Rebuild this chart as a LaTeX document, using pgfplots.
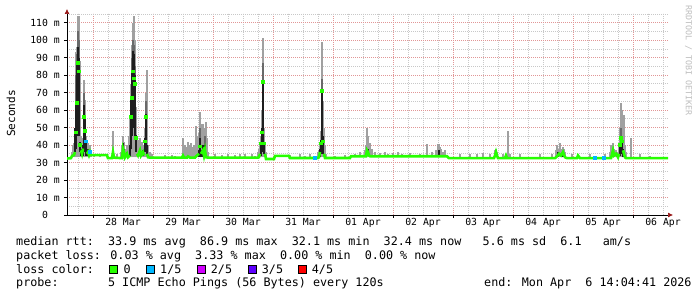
\documentclass[border=0pt]{standalone}
\usepackage{fontspec}
\setmainfont{DejaVu Sans Mono}
\usepackage{pgfplots}
\usepackage{pgfplotstable}
\pgfplotsset{compat=1.18}
\usetikzlibrary{arrows.meta}

\definecolor{lc0}{RGB}{38,255,0}
\definecolor{lc1}{RGB}{0,184,255}
\definecolor{lc2}{RGB}{210,0,255}
\definecolor{lc3}{RGB}{94,0,255}
\definecolor{lc4}{RGB}{255,0,0}
\definecolor{smokeL}{RGB}{160,160,160}
\definecolor{smokeM}{RGB}{105,105,105}
\definecolor{smokeD}{RGB}{30,30,30}
\definecolor{gridred}{RGB}{225,150,150}
\definecolor{gridgrey}{RGB}{200,200,200}
\definecolor{arrowred}{RGB}{150,20,20}

% time axis: px position on the original time scale (60 per day, 93 = 28 Mar 00:00)
\pgfplotstableread{
px lo hi
72 33 36
73 33 40
74 33 41
75 33 48
76 33 93
77 33 96
78 33 114
79 33 114
80 33 88
81 33 45
82 33 40
83 33 44
84 33 77
85 33 66
86 33 45
87 33 42
88 33 41
89 33 38
90 33 40
91 33 37
94 33 35
100 33 35
113 33 48
117 33 35
121 33 36
122 33 40
123 33 45
124 33 42
125 33 38
126 33 38
127 33 40
128 33 39
129 33 45
130 33 55
131 33 75
132 33 97
133 33 110
134 33 114
135 33 100
136 33 62
137 33 45
138 33 43
139 33 42
140 33 44
141 33 40
142 33 42
143 33 40
144 33 38
145 33 50
146 33 70
147 33 83
148 33 40
150 33 36
152 33 35
165 33 34.5
172 33 34.5
175 33 34
183 33 44
184 33 38
185 33 40
186 33 37
187 33 39
188 33 41.6
189 33 40
190 33 38
191 33 41
192 33 37
193 33 39
194 33 40
196 33 51
197 33 45
198 33 40
199 33 47
200 33 59
201 33 52
202 33 46
203 33 52
204 33 50
205 33 49
206 33 53
207 33 44
208 33 36
215 33 35
222 33 34.5
228 33 35
235 33 34.5
240 33 35
245 33 35
252 33 35
255 33 34
258 33 36
259 33 38
260 33 42
261 33 45
262 33 60
263 33 101
264 33 50
265 33 40
266 33 36
280 33 34.5
290 33 34.5
300 33 35
305 33 34
310 33 35
315 33 34
318 33 36
319 33 37
320 33 42
321 33 48
322 33 99
323 33 65
324 33 50
325 33 40
326 33 35
335 33 34
345 33 34.5
355 33 35
360 33 36
365 33 37
366 33 40
367 33 49.6
368 33 45
369 33 40
370 33 41
372 33 38
375 33 36
380 33 35.5
385 33 36
388 33 35
393 33 35.5
398 33 36
402 33 35
410 33 35.5
420 33 35
427 33 40.5
432 33 36
436 33 37
438 33 40.5
439 33 40.5
440 33 39
441 33 38
443 33 36
445 33 37
460 33 35
470 33 35
477 33 35
483 33 35.5
490 33 35
495 33 37
496 33 37.5
497 33 36
503 33 35
508 33 48
510 33 35
520 33 35
540 33 35
552 33 35
556 33 37
557 33 40
558 33 38
559 33 36
560 33 41
561 33 38
562 33 37
563 33 39
564 33 38
565 33 36
572 33 35
578 33 35
590 33 35
605 33 35
610 33 36
611 33 40
612 33 38
613 33 41
614 33 38
616 33 37
618 33 36
619 33 40
620 33 50
621 33 64
622 33 60
623 33 47
624 33 57
625 33 40
626 33 36
631 33 44
640 33 35
650 33 34
}\smokelight

\pgfplotstableread{
px lo hi
76 40 80
77 45 92
78 55 105
79 50 100
84 36 70
132 45 90
133 50 100
134 55 97
135 45 85
146 38 65
200 34 50
205 34 45
263 40 87
322 38 78
621 36 50
}\smokemid

\pgfplotstableread{
px lo hi
75 36 50
76 38 63
77 45 88
78 60 96
79 45 90
80 36 42
81 34 38
83 34 40
84 36 63
85 36 56
86 34 42
88 34 38
113 34 37
123 34 41
124 34 38
127 34 36
130 34 40
131 38 67
132 45 82
133 50 94
134 55 92
135 44 80
136 36 46
140 34 38
143 34 37
145 36 44
146 40 58
147 34 40
183 33 35
199 33 37
200 34 44
201 33 37
203 33 40
204 33 37
205 33 40
261 34 42
262 36 50
263 40 76
264 35 42
320 33 38
321 35 43
322 38 71
323 35 45
367 34 38
368 34 38
439 33 37
496 33 37
558 33 36
563 33 36
613 33 37
620 34 40
621 36 44
622 35 44
623 33 38
}\smokedark

\pgfplotstableread{
px med
67 32.3
71 32.5
72 33.8
74 34.2
75 36
76 nan
81 37
82 35
83 38
84 nan
87 35
88 36
89 34.2
90 36
91 34.2
107 34.2
108 32.5
112 32.5
113 36
114 32.8
122 32.5
123 38
124 36
125 33
127 35
128 33
130 34
131 nan
137 35
138 34
140 37
141 34
143 36
144 34
145 nan
147 35
148 33
150 32.8
182 32.8
183 34
184 32.8
187 32.8
188 33.5
190 32.8
195 32.8
196 33.5
199 35
200 nan
201 35
203 37
204 34
205 37
206 33
208 32.8
258 32.8
259 33
260 35
261 nan
265 35
266 32
274 32
275 33.8
289 33.8
290 32.6
318 32.6
319 33
320 36
321 nan
324 35
325 32.6
350 32.6
351 33.6
366 33.6
367 37
368 36
369 34
370 33.6
447 33.6
449 32.5
494 32.5
495 34
496 36
497 34
498 32.5
505 32.5
506 34
507 32.5
555 32.5
557 33.5
559 35
561 34
563 36
565 33
567 32.5
577 32.5
578 34
580 32.5
611 32.5
613 37
614 34
616 35
618 33
619 35
620 nan
623 37
624 35
625 33
626 32.5
668 32.5
}\medline

\pgfplotstableread{
px med
76 47
77 64
78 87
79 82
80 40
84 56
85 48
131 56
132 67
133 82
134 78
135 75
136 44
145 42
146 56
200 39
261 41
262 47
263 76
264 41
321 41
322 71
323 42
620 40
621 44
622 42
}\medspikes

\pgfplotstableread{
px med
86 42
90 36
315 32.6
595 32.5
604 32.5
}\medloss

\begin{document}
\begin{tikzpicture}[
  lg/.style={anchor=base west, inner sep=0pt, font=\fontsize{11.74bp}{13bp}\selectfont},
  box/.style={draw=black, line width=0.6bp, minimum width=8bp, minimum height=8bp, inner sep=0pt, anchor=south west}]
\useasboundingbox[fill=white] (0,0) rectangle (697bp,297bp);
\begin{axis}[
  at={(67bp,82bp)}, anchor=south west,
  width=601bp, height=202bp, scale only axis,
  xmin=-0.4333, xmax=9.5833, ymin=0, ymax=115.5,
  axis lines=left,
  axis line style={black, line width=0.7bp},
  x axis line style={shorten >=-5bp, -{Latex[length=5bp,width=5bp,color=arrowred]}},
  y axis line style={shorten >=-4bp, -{Latex[length=5bp,width=5bp,color=arrowred]}},
  xtick={0,...,9}, xticklabels={},
  extra x ticks={0.5,1.5,...,9.5},
  extra x tick labels={28 Mar,29 Mar,30 Mar,31 Mar,01 Apr,02 Apr,03 Apr,04 Apr,05 Apr,06 Apr},
  extra x tick style={grid=none, major tick length=0pt},
  minor xtick={-0.25,0.25,0.5,0.75,1.25,1.5,1.75,2.25,2.5,2.75,3.25,3.5,3.75,4.25,4.5,4.75,5.25,5.5,5.75,6.25,6.5,6.75,7.25,7.5,7.75,8.25,8.5,8.75,9.25,9.5},
  ytick={0,10,...,110},
  yticklabels={0\phantom{0m},10 m,20 m,30 m,40 m,50 m,60 m,70 m,80 m,90 m,100 m,110 m},
  minor ytick={5,15,...,115},
  grid=both,
  major grid style={gridred, dash pattern=on 1bp off 1bp, line width=0.7bp},
  minor grid style={gridgrey, dash pattern=on 1bp off 1bp, line width=0.7bp},
  tick align=outside, major tick length=3bp, minor tick length=0pt,
  tick style={black, line width=0.6bp},
  ticklabel style={font=\fontsize{9.8bp}{11bp}\selectfont},
  yticklabel style={inner sep=0pt, xshift=-4bp},
  xticklabel style={inner sep=0pt, yshift=-3bp},
  unbounded coords=jump,
  clip=true,
]
\addplot[draw=none, no markers, forget plot, error bars/.cd, y dir=plus, y explicit, error mark=none,
  error bar style={draw=smokeL, line width=1.15bp, solid}]
  table[x expr=(\thisrow{px}-93)/60, y=lo, y error expr=\thisrow{hi}-\thisrow{lo}] {\smokelight};
\addplot[draw=none, no markers, forget plot, error bars/.cd, y dir=plus, y explicit, error mark=none,
  error bar style={draw=smokeM, line width=1.15bp, solid}]
  table[x expr=(\thisrow{px}-93)/60, y=lo, y error expr=\thisrow{hi}-\thisrow{lo}] {\smokemid};
\addplot[draw=none, no markers, forget plot, error bars/.cd, y dir=plus, y explicit, error mark=none,
  error bar style={draw=smokeD, line width=1.15bp, solid}]
  table[x expr=(\thisrow{px}-93)/60, y=lo, y error expr=\thisrow{hi}-\thisrow{lo}] {\smokedark};
\addplot[lc0, line width=2.6bp, mark=none]
  table[x expr=(\thisrow{px}-93)/60, y=med] {\medline};
\addplot[color=lc0, fill=lc0, only marks, mark=square*, mark size=1.2bp, mark options={solid, line width=0pt, draw=lc0, fill=lc0}]
  table[x expr=(\thisrow{px}-93)/60, y=med] {\medspikes};
\addplot[color=lc1, fill=lc1, only marks, mark=square*, mark size=1.3bp, mark options={solid, line width=0pt, draw=lc1, fill=lc1}]
  table[x expr=(\thisrow{px}-93)/60, y=med] {\medloss};
\end{axis}

\node[rotate=90, font=\fontsize{11.1bp}{12bp}\selectfont] at (11bp,183.5bp) {Seconds};
\node[rotate=-90, anchor=west, inner sep=0pt, text={rgb,255:red,190;green,190;blue,190}, font=\fontsize{8.3bp}{9bp}\selectfont] at (688.5bp,292bp) {RRDTOOL / TOBI OETIKER};

\node[lg] at (16bp,51.5bp) {median rtt:\ \ 33.9 ms avg\ \ 86.9 ms max\ \ 32.1 ms min\ \ 32.4 ms now\ \ \ 5.6 ms sd\ \ 6.1\ \ \ am/s};
\node[lg] at (16bp,37.7bp) {packet loss: 0.03 \% avg\ \ 3.33 \% max\ \ 0.00 \% min\ \ 0.00 \% now};

\node[lg] at (16bp,24bp) {loss color:};
\node[box, fill=lc0] at (108.7bp,23.8bp) {};
\node[lg] at (123.3bp,24bp) {0};
\node[box, fill=lc1] at (145.7bp,23.8bp) {};
\node[lg] at (160bp,24bp) {1/5};
\node[box, fill=lc2] at (197.3bp,23.8bp) {};
\node[lg] at (210.7bp,24bp) {2/5};
\node[box, fill=lc3] at (248bp,23.8bp) {};
\node[lg] at (261.7bp,24bp) {3/5};
\node[box, fill=lc4] at (297.7bp,23.8bp) {};
\node[lg] at (311.7bp,24bp) {4/5};

\node[lg] at (16bp,10.3bp) {probe:\ \ \ \ \ \ \ 5 ICMP Echo Pings (56 Bytes) every 120s};
\node[lg] at (484bp,10.3bp) {end: Mon Apr\ \ 6 14:04:41 2026};
\end{tikzpicture}
\end{document}
